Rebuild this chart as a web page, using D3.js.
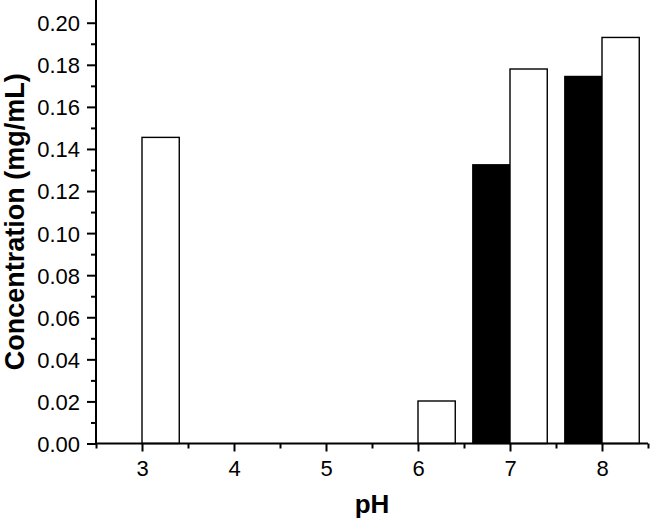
<!DOCTYPE html>
<html>
<head>
<meta charset="utf-8">
<script src="https://cdn.jsdelivr.net/npm/d3@7"></script>
<style>
  body { margin: 0; background: #fff; }
  svg { display: block; font-family: Arial, "Liberation Sans", sans-serif; }
  .tick text { font-size: 22px; fill: #000; font-family: Arial, "Liberation Sans", sans-serif; }
  .label { font-weight: bold; fill: #000; }
</style>
</head>
<body>
<div id="chart"></div>
<script>
// pH categories and the two measured series
const phLevels = [3, 4, 5, 6, 7, 8];
const filledValues = [0, 0, 0, 0, 0.1325, 0.1745];
const openValues = [0.1455, 0, 0, 0.0202, 0.178, 0.193];
const yTicks = [0, 0.02, 0.04, 0.06, 0.08, 0.10, 0.12, 0.14, 0.16, 0.18, 0.20];
const yMinor = [0.01, 0.03, 0.05, 0.07, 0.09, 0.11, 0.13, 0.15, 0.17, 0.19];
const xMinor = [2.5, 3.5, 4.5, 5.5, 6.5, 7.5, 8.5];

function appendGroupTo (name, parent) {
  return parent.append('g').attr('class', name);
}

function chart () {
  const W = 650, H = 520;
  const margin = {top: 0, right: 2, bottom: 76.5, left: 96};
  let w = W - margin.left - margin.right;
  let h = H - margin.top - margin.bottom;
  const barW = 0.405;

  let svg = d3.select('#chart')
    .append('svg')
    .attr('width', W)
    .attr('height', H);

  let mContainer = appendGroupTo('mContainer', svg)
    .attr('transform', `translate(${margin.left}, ${margin.top})`);

  let xScale = d3.scaleLinear().domain([2.5, 8.5]).range([0, w]);
  let yScale = d3.scaleLinear().domain([0, 0.2108]).range([h, 0]);

  let dataCont = appendGroupTo('dataCont', mContainer);
  let axes = appendGroupTo('axes', mContainer);

  // filled bars sit left of the tick, open bars right of it
  dataCont.selectAll('rect.filled')
    .data(phLevels.map((p, i) => ({p: p, v: filledValues[i]})).filter(d => d.v > 0))
    .join('rect').attr('class', 'filled')
    .attr('x', d => xScale(d.p - barW))
    .attr('y', d => yScale(d.v))
    .attr('width', d => xScale(d.p) - xScale(d.p - barW))
    .attr('height', d => yScale(0) - yScale(d.v))
    .style('fill', '#000')
    .style('stroke', '#000')
    .style('stroke-width', 1.2);

  dataCont.selectAll('rect.open')
    .data(phLevels.map((p, i) => ({p: p, v: openValues[i]})).filter(d => d.v > 0))
    .join('rect').attr('class', 'open')
    .attr('x', d => xScale(d.p))
    .attr('y', d => yScale(d.v))
    .attr('width', d => xScale(d.p + barW) - xScale(d.p))
    .attr('height', d => yScale(0) - yScale(d.v))
    .style('fill', '#fff')
    .style('stroke', '#000')
    .style('stroke-width', 1.4);

  // minor ticks first, majors and labels on top
  appendGroupTo('xMinor', axes).attr('transform', `translate(0, ${h})`)
    .call(d3.axisBottom(xScale).tickValues(xMinor).tickSize(5).tickFormat(''));
  appendGroupTo('yMinor', axes)
    .call(d3.axisLeft(yScale).tickValues(yMinor).tickSize(5).tickFormat(''));

  let xAxisCont = appendGroupTo('xAxisCont', axes).attr('transform', `translate(0, ${h})`)
    .call(d3.axisBottom(xScale).tickValues(phLevels).tickSize(8).tickPadding(9).tickFormat(d3.format('d')));
  let yAxisCont = appendGroupTo('yAxisCont', axes)
    .call(d3.axisLeft(yScale).tickValues(yTicks).tickSize(9).tickPadding(7).tickFormat(d3.format('.2f')));

  axes.selectAll('.domain').remove();
  axes.selectAll('.tick line').style('stroke', '#000').style('stroke-width', 2);
  xAxisCont.selectAll('.tick text').attr('dy', '0.7em');
  yAxisCont.selectAll('.tick text').attr('dy', '0.36em');

  // axis lines
  axes.append('line')
    .attr('x1', 0).attr('x2', w).attr('y1', h).attr('y2', h)
    .style('stroke', '#000').style('stroke-width', 2);
  axes.append('line')
    .attr('x1', 0).attr('x2', 0).attr('y1', 0).attr('y2', h)
    .style('stroke', '#000').style('stroke-width', 2);

  axes.append('text').attr('class', 'label')
    .attr('x', w / 2)
    .attr('y', h + 69)
    .style('text-anchor', 'middle')
    .style('font-size', '26px')
    .text('pH');

  axes.append('text').attr('class', 'label')
    .attr('transform', `translate(${-margin.left + 24}, ${h / 2}) rotate(-90)`)
    .style('text-anchor', 'middle')
    .style('font-size', '27px')
    .text('Concentration (mg/mL)');
}

chart();
</script>
</body>
</html>
